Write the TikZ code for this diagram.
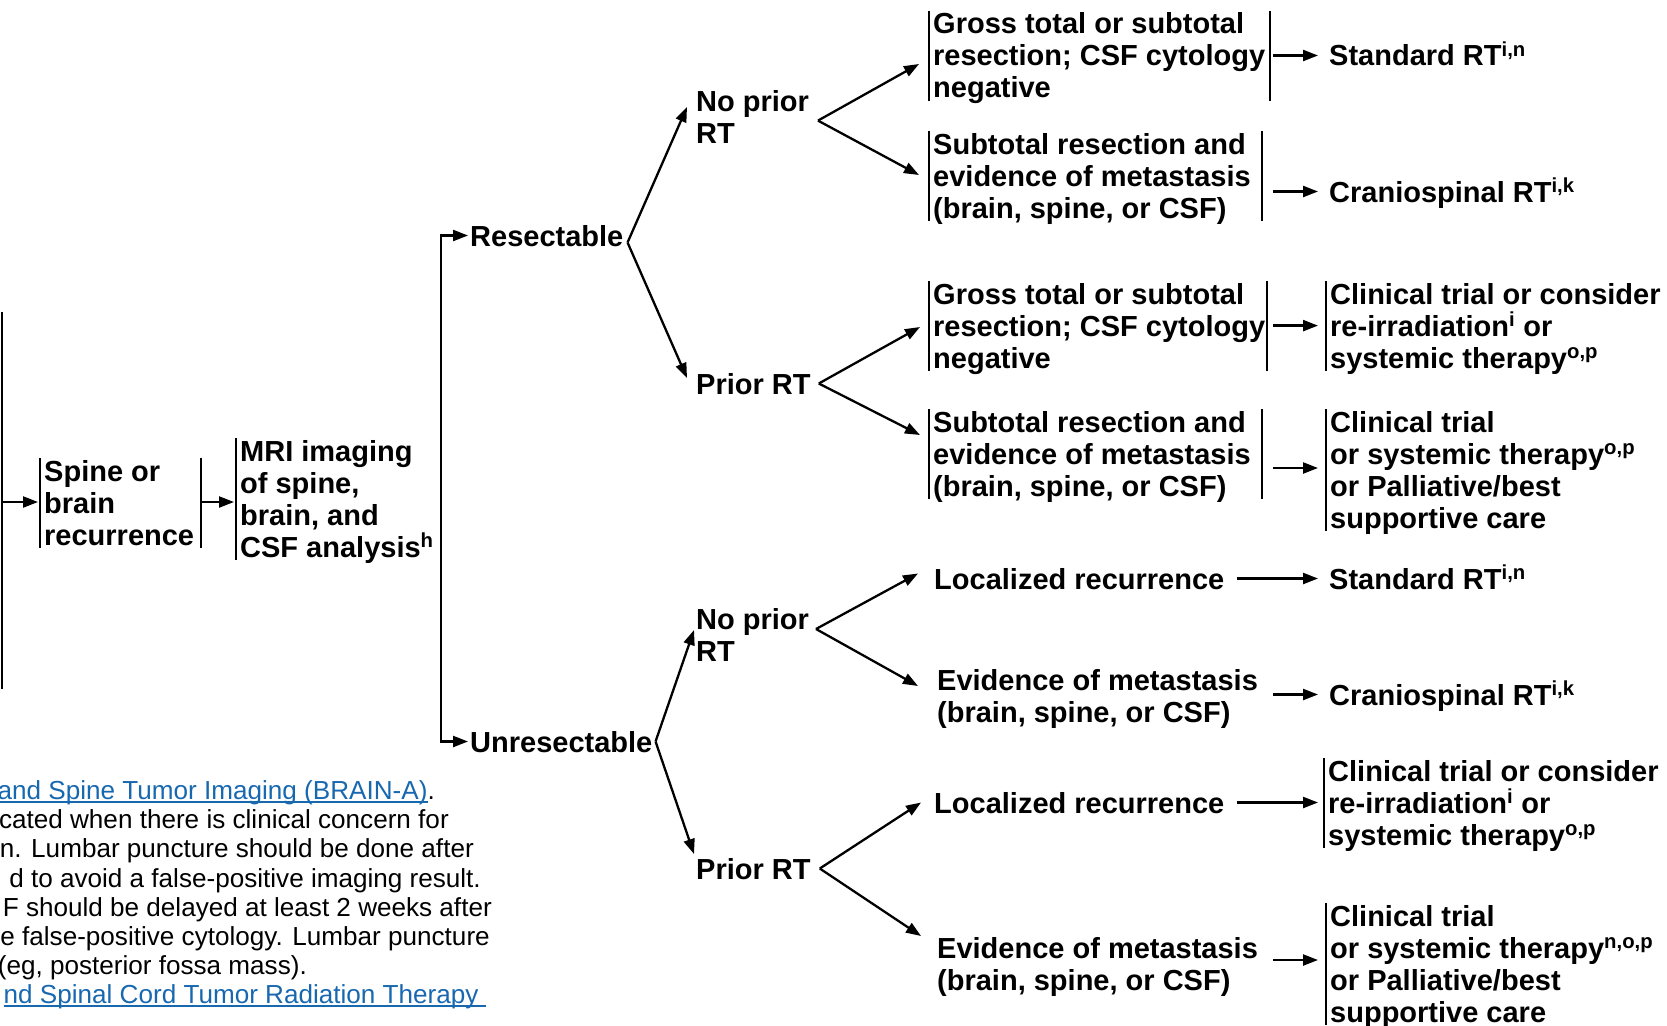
\documentclass[tikz,border=0pt]{standalone}
\usepackage{fontspec}
\setmainfont{Liberation Sans}
\usetikzlibrary{arrows.meta}
\definecolor{linkblue}{RGB}{24,104,176}
% left-aligned multi-line block whose baseline is its first line
\newcommand\blk[1]{\begin{tabular}[t]{@{}l@{}}#1\end{tabular}}
% superscript that does not widen the line spacing
\newcommand\sps[1]{\smash{\textsuperscript{#1}}}
% underlined hyperlink text
\newcommand\lnk[1]{\setbox0\hbox{#1}\rlap{\rule[-4pt]{\wd0}{1.6pt}}\box0}
\begin{document}
\begin{tikzpicture}[x=1pt,y=-1pt,
  txt/.style={inner sep=0pt,font=\fontsize{29}{32}\selectfont\bfseries},
  one/.style={txt,text height=21pt,text depth=0pt},
  barred/.style={txt,inner xsep=4pt},
  arr/.style={line width=2.3pt,-{Triangle[length=15pt,width=11pt]}},
  ln/.style={line width=2.3pt},
  bar/.style={line width=2pt,shorten >=7pt},
  note/.style={inner sep=0pt,anchor=base east,font=\fontsize{26.1}{29}\selectfont}]
\useasboundingbox (0,0) rectangle (1667,1025);

% ---- nodes ----
\node[barred,anchor=base west] (spine) at (40,481) {\blk{Spine or\\brain\\recurrence}};
\node[barred,anchor=base west] (mri) at (236,461) {\blk{MRI imaging\\of spine,\\brain, and\\CSF analysis\sps{h}}};
\node[one,anchor=base west] (res) at (470,246) {Resectable};
\node[one,anchor=base west] (unres) at (470,752) {Unresectable};
\node[txt,anchor=base west] (np1) at (696,111.6) {\blk{No prior\\RT}};
\node[one,anchor=base west] (pr1) at (696,394) {Prior RT};
\node[txt,anchor=base west] (np2) at (696,629) {\blk{No prior\\RT}};
\node[one,anchor=base west] (pr2) at (696,879) {Prior RT};

\node[barred,anchor=base west] (a) at (929,34) {\blk{Gross total or subtotal\\resection; CSF cytology\\negative}};
\node[barred,anchor=base west] (b) at (929,154) {\blk{Subtotal resection and\\evidence of metastasis\\(brain, spine, or CSF)}};
\node[barred,anchor=base west] (c) at (929,304) {\blk{Gross total or subtotal\\resection; CSF cytology\\negative}};
\node[barred,anchor=base west] (d) at (929,432) {\blk{Subtotal resection and\\evidence of metastasis\\(brain, spine, or CSF)}};
\node[one,anchor=base west] (loc1) at (934,589) {Localized recurrence};
\node[txt,anchor=base west] (ev1) at (937,690) {\blk{Evidence of metastasis\\(brain, spine, or CSF)}};
\node[one,anchor=base west] (loc2) at (934,813) {Localized recurrence};
\node[txt,anchor=base west] (ev2) at (937,958) {\blk{Evidence of metastasis\\(brain, spine, or CSF)}};

\node[one,anchor=base west] (std1) at (1329,66) {Standard RT\textsuperscript{i,n}};
\node[one,anchor=base west] (cs1) at (1329,202) {Craniospinal RT\textsuperscript{i,k}};
\node[barred,anchor=base west] (e) at (1326,304) {\blk{Clinical trial or consider\\re-irradiation\sps{i} or\\systemic therapy\sps{o,p}}};
\node[barred,anchor=base west] (f) at (1326,432) {\blk{Clinical trial\\or systemic therapy\sps{o,p}\\or Palliative/best\\supportive care}};
\node[one,anchor=base west] (std2) at (1329,589) {Standard RT\textsuperscript{i,n}};
\node[one,anchor=base west] (cs2) at (1329,705) {Craniospinal RT\textsuperscript{i,k}};
\node[barred,anchor=base west] (g) at (1324,781) {\blk{Clinical trial or consider\\re-irradiation\sps{i} or\\systemic therapy\sps{o,p}}};
\node[barred,anchor=base west] (h) at (1326,926) {\blk{Clinical trial\\or systemic therapy\sps{n,o,p}\\or Palliative/best\\supportive care}};

% ---- footnotes ----
\node[note] (n1) at (435,799) {\textcolor{linkblue}{\lnk{and Spine Tumor Imaging (BRAIN-A)}}.};
\node[note] (n2) at (449,828) {cated when there is clinical concern for};
\node[note] (n3) at (474,857) {n. Lumbar puncture should be done after};
\node[note] (n4) at (481,887) {d to avoid a false-positive imaging result.};
\node[note] (n5) at (492,916) {F should be delayed at least 2 weeks after};
\node[note] (n6) at (490,945) {e false-positive cytology. Lumbar puncture};
\node[note] (n7) at (307,974) {(eg, posterior fossa mass).};
\node[note] (n8) at (486,1003) {\textcolor{linkblue}{\lnk{nd Spinal Cord Tumor Radiation Therapy\ }}};

% ---- bars beside the boxed texts ----
\foreach \n in {spine,mri,a,b,c,d,e,f,g,h}
  \draw[bar] (\n.north west) -- (\n.south west);
\draw[bar] ([xshift=3pt]spine.north east) -- ([xshift=3pt]spine.south east);
\draw[bar] ([xshift=1pt]a.north east) -- ([xshift=1pt]a.south east);
\draw[bar] ([xshift=7.5pt]b.north east) -- ([xshift=7.5pt]b.south east);
\draw[bar] ([xshift=-2pt]c.north east) -- ([xshift=-2pt]c.south east);
\draw[bar] ([xshift=7.5pt]d.north east) -- ([xshift=7.5pt]d.south east);

% ---- left trunk and first steps ----
\coordinate (lt) at (2,312);
\coordinate (lb) at (2,689);
\draw[ln] (lt) -- (lb);
\coordinate (sIn) at ([yshift=4.6pt]spine.west);
\draw[arr,shorten >=2pt] (lt |- sIn) -- (sIn);
\draw[arr,shorten >=2pt] ([xshift=3pt]sIn -| spine.east) -- (sIn -| mri.west);

% ---- bracket after imaging ----
\coordinate (bk) at (441,0);
\draw[arr] (bk |- mri.east) |- ([xshift=-2pt]res.west);
\draw[arr] (bk |- mri.east) |- ([xshift=-2pt]unres.west);

% ---- resectable branch ----
\coordinate (resA) at ([shift={(4,7)}]res.east);
\draw[arr] (resA) -- ([shift={(-9,-4.6)}]np1.base west);
\draw[arr] (resA) -- ([shift={(-9,-16)}]pr1.base west);
\coordinate (np1a) at ([shift={(122,9)}]np1.base west);
\draw[arr] (np1a) -- ([shift={(-10,30)}]a.base west);
\draw[arr] (np1a) -- ([shift={(-10,21)}]b.base west);
\coordinate (pr1a) at ([xshift=8pt]pr1.east);
\draw[arr] (pr1a) -- ([shift={(-9,23)}]c.base west);
\draw[arr] (pr1a) -- ([shift={(-9,3)}]d.base west);

% ---- unresectable branch ----
\coordinate (unA) at ([xshift=3pt]unres.east);
\draw[arr] (unA) -- ([shift={(-2,1)}]np2.base west);
\draw[arr] (unA) -- ([shift={(-2,-25)}]pr2.base west);
\coordinate (np2a) at ([shift={(120,0)}]np2.base west);
\draw[arr] (np2a) -- ([shift={(-16,-5)}]loc1.west);
\draw[arr] (np2a) -- ([shift={(-19,-4)}]ev1.base west);
\coordinate (pr2a) at ([xshift=9pt]pr2.east);
\draw[arr] (pr2a) -- ([shift={(-13,0)}]loc2.west);
\draw[arr] (pr2a) -- ([shift={(-16,-22)}]ev2.base west);

% ---- arrows to the treatment column ----
\coordinate (ax) at (1273,0);
\coordinate (tx) at (1318,0);
\coordinate (c2) at ([shift={(0,21.6)}]c.base west);
\coordinate (d2) at ([shift={(0,36)}]d.base west);
\coordinate (e2) at ([shift={(0,2)}]ev2.base west);
\draw[arr] (ax |- std1.west) -- (tx |- std1.west);
\draw[arr] (ax |- cs1.west) -- (tx |- cs1.west);
\draw[arr] (ax |- c2) -- (tx |- c2);
\draw[arr] (ax |- d2) -- (tx |- d2);
\draw[arr] ([xshift=12pt]loc1.east) -- (tx |- loc1.east);
\draw[arr] (ax |- cs2.west) -- (tx |- cs2.west);
\draw[arr] ([xshift=12pt]loc2.east) -- (tx |- loc2.east);
\draw[arr] (ax |- e2) -- (tx |- e2);
\end{tikzpicture}
\end{document}
